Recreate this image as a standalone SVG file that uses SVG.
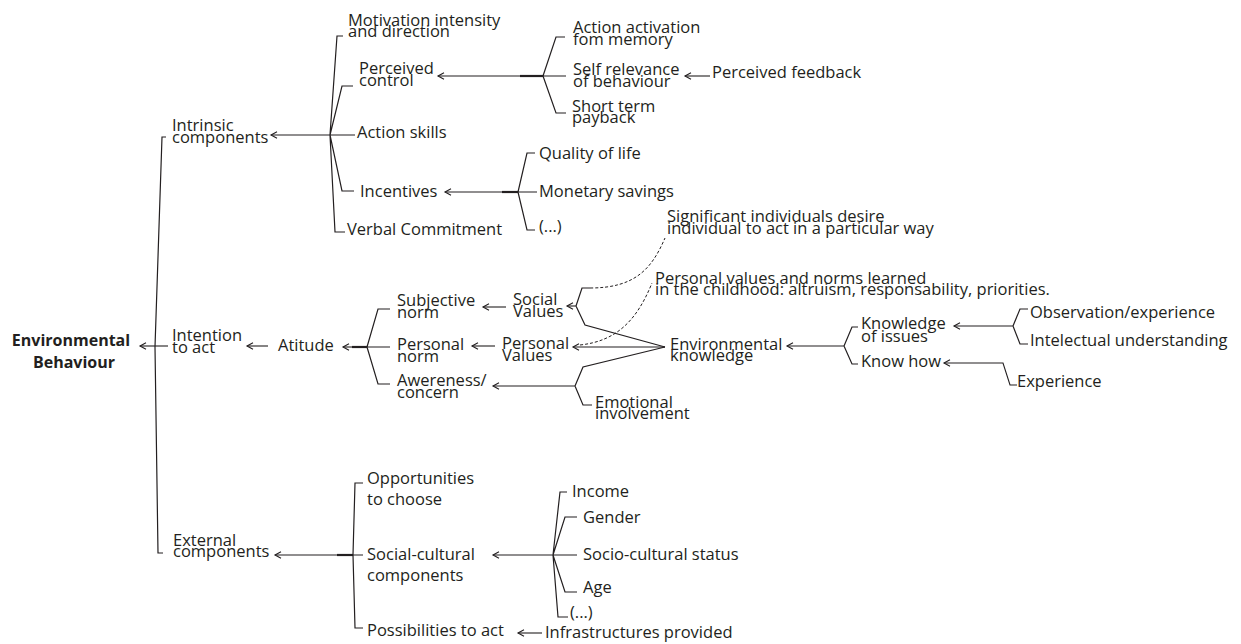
<svg xmlns="http://www.w3.org/2000/svg" width="1241" height="644" viewBox="0 0 1241 644">
<defs>
<marker id="ah" markerUnits="userSpaceOnUse" markerWidth="10" markerHeight="10" refX="0" refY="0" viewBox="-1 -5 10 10" orient="auto" overflow="visible">
<path d="M6,-3.2 L0,0 L6,3.2" fill="none" stroke="#231f20" stroke-width="1.1"/>
</marker>
<style>
text{font-family:"Open Sans","Liberation Sans",sans-serif;font-size:16.5px;fill:#231f20}
.b{font-weight:bold;font-size:16px}
.ln{fill:none;stroke:#231f20;stroke-width:1.2}
.ar{fill:none;stroke:#231f20;stroke-width:1.1;marker-start:url(#ah)}
.th{fill:none;stroke:#231f20;stroke-width:2.2}
.ds{fill:none;stroke:#231f20;stroke-width:1;stroke-dasharray:3 2}
</style>
</defs>
<rect width="1241" height="644" fill="#fff"/>
<g id="connectors">
<path class="ln" d="M166,137 H162 L155,347 L158,553 H163"/>
<path class="ar" d="M140,346 H168"/>
<path class="ar" d="M271,135 H330"/>
<path class="ln" d="M343,36 H337 L330,135 M353,86 H342 L330,135 M330,135 H355 M330,135 L342,191 H354 M330,135 L335,232 H345"/>
<path class="ar" d="M438,76 H543"/>
<path class="th" d="M520,76 H543"/>
<path class="ln" d="M565,37 H556 L543,76 M543,76 H566 M543,76 L556,113 H566"/>
<path class="ar" d="M685,76 H710"/>
<path class="ar" d="M445,192 H518"/>
<path class="th" d="M502,192 H518"/>
<path class="ln" d="M535,153 H527 L518,192 M518,192 H537 M518,192 L527,230 H535"/>
<path class="ar" d="M247,346 H268"/>
<path class="ar" d="M343,347 H367"/>
<path class="th" d="M352,347 H367"/>
<path class="ln" d="M390,309 H378 L367,347 M367,347 H390 M367,347 L378,384 H390"/>
<path class="ar" d="M483,307 H506"/>
<path class="ar" d="M567,306 H576"/>
<path class="ln" d="M576,306 L582,288 H590 M576,306 L585,325 L665,347"/>
<path class="ds" d="M590,288 C636,288 652,268 665,238"/>
<path class="ar" d="M472,346 H495"/>
<path class="ar" d="M573,347 H665"/>
<path class="ds" d="M580,345 C617,341 637,320 652,283"/>
<path class="ar" d="M493,386 H575"/>
<path class="ln" d="M575,386 L583,367 L665,347 M575,386 L583,405 H592"/>
<path class="ar" d="M787,346 H844"/>
<path class="ln" d="M844,346 L852,327 H858 M844,346 L852,364 H858"/>
<path class="ar" d="M954,326 H1013"/>
<path class="ln" d="M1013,326 L1020,309 H1028 M1013,326 L1020,344 H1028"/>
<path class="ar" d="M944,363 H1003 L1010,385 H1017"/>
<path class="ar" d="M275,555 H353"/>
<path class="th" d="M337,555 H353"/>
<path class="ln" d="M363,483 H355 L353,555 L355,628 H363 M353,555 H363"/>
<path class="ar" d="M493,555 H553"/>
<path class="ln" d="M567,492 H560 L553,555 M577,517 H565 L553,555 M553,555 H577 M553,555 L565,592 H577 M553,555 L558,617 H568"/>
<path class="ar" d="M518,633 H542"/>
</g>
<g id="env-behaviour"><text class="b" text-anchor="middle"><tspan x="71" y="346">Environmental</tspan><tspan x="74" y="368">Behaviour</tspan></text></g>
<g id="intrinsic"><text><tspan x="172" y="131">Intrinsic</tspan><tspan x="172" y="143">components</tspan></text></g>
<g id="intention"><text><tspan x="172" y="341">Intention</tspan><tspan x="172" y="353">to act</tspan></text></g>
<g id="external"><text><tspan x="173" y="546">External</tspan><tspan x="173" y="557">components</tspan></text></g>
<g id="motivation"><text><tspan x="348" y="26">Motivation intensity</tspan><tspan x="348" y="37">and direction</tspan></text></g>
<g id="perceived-control"><text><tspan x="359" y="74">Perceived</tspan><tspan x="359" y="86">control</tspan></text></g>
<g id="action-skills"><text x="357" y="138">Action skills</text></g>
<g id="incentives"><text x="360" y="197">Incentives</text></g>
<g id="verbal"><text x="347" y="235">Verbal Commitment</text></g>
<g id="action-activation"><text><tspan x="573" y="33">Action activation</tspan><tspan x="573" y="45">fom memory</tspan></text></g>
<g id="self-relevance"><text><tspan x="573" y="75">Self relevance</tspan><tspan x="573" y="87">of behaviour</tspan></text></g>
<g id="short-term"><text><tspan x="572" y="112">Short term</tspan><tspan x="572" y="123">payback</tspan></text></g>
<g id="perceived-feedback"><text x="712" y="78">Perceived feedback</text></g>
<g id="quality"><text x="539" y="159">Quality of life</text></g>
<g id="monetary"><text x="539" y="197">Monetary savings</text></g>
<g id="etc1"><text x="539" y="232">(...)</text></g>
<g id="significant"><text><tspan x="667" y="222">Significant individuals desire</tspan><tspan x="667" y="234">individual to act in a particular way</tspan></text></g>
<g id="personal-values-note"><text><tspan x="655" y="284">Personal values and norms learned</tspan><tspan x="655" y="295">in the childhood: altruism, responsability, priorities.</tspan></text></g>
<g id="atitude"><text x="278" y="351">Atitude</text></g>
<g id="subjective-norm"><text><tspan x="397" y="306">Subjective</tspan><tspan x="397" y="318">norm</tspan></text></g>
<g id="personal-norm"><text><tspan x="397" y="350">Personal</tspan><tspan x="397" y="362">norm</tspan></text></g>
<g id="awereness"><text><tspan x="397" y="386">Awereness/</tspan><tspan x="397" y="398">concern</tspan></text></g>
<g id="social-values"><text><tspan x="513" y="305">Social</tspan><tspan x="513" y="317">Values</tspan></text></g>
<g id="personal-values"><text><tspan x="502" y="349">Personal</tspan><tspan x="502" y="361">Values</tspan></text></g>
<g id="env-knowledge"><text><tspan x="670" y="350">Environmental</tspan><tspan x="670" y="361">knowledge</tspan></text></g>
<g id="emotional"><text><tspan x="595" y="408">Emotional</tspan><tspan x="595" y="419">involvement</tspan></text></g>
<g id="knowledge-issues"><text><tspan x="861" y="329">Knowledge</tspan><tspan x="861" y="342">of issues</tspan></text></g>
<g id="know-how"><text x="861" y="367">Know how</text></g>
<g id="observation"><text x="1030" y="318">Observation/experience</text></g>
<g id="intelectual"><text x="1030" y="346">Intelectual understanding</text></g>
<g id="experience"><text x="1017" y="387">Experience</text></g>
<g id="opportunities"><text><tspan x="367" y="484">Opportunities</tspan><tspan x="367" y="505">to choose</tspan></text></g>
<g id="social-cultural"><text><tspan x="367" y="560">Social-cultural</tspan><tspan x="367" y="581">components</tspan></text></g>
<g id="possibilities"><text x="367" y="636">Possibilities to act</text></g>
<g id="income"><text x="572" y="497">Income</text></g>
<g id="gender"><text x="583" y="523">Gender</text></g>
<g id="socio-status"><text x="583" y="560">Socio-cultural status</text></g>
<g id="age"><text x="583" y="593">Age</text></g>
<g id="etc2"><text x="570" y="618">(...)</text></g>
<g id="infrastructures"><text x="545" y="638">Infrastructures provided</text></g>
</svg>
